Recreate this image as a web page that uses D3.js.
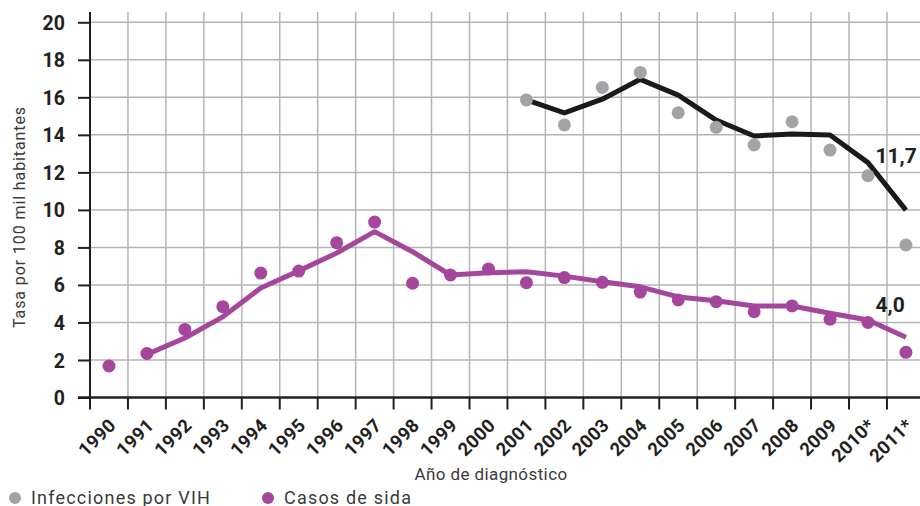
<!DOCTYPE html>
<html>
<head>
<meta charset="utf-8">
<script src="https://cdn.jsdelivr.net/npm/d3@7"></script>
<style>
  html, body { margin: 0; padding: 0; background: #fff; }
  svg { display: block; }
  text { font-family: Roboto, "DejaVu Sans", sans-serif; }
</style>
</head>
<body>
<svg id="chart" width="920" height="506"></svg>
<script>
// ---- data ----
const years = ["1990","1991","1992","1993","1994","1995","1996","1997","1998","1999","2000",
               "2001","2002","2003","2004","2005","2006","2007","2008","2009","2010*","2011*"];
const sidaPoints = [1.68, 2.35, 3.63, 4.84, 6.63, 6.74, 8.25, 9.35, 6.09, 6.53, 6.85,
                    6.12, 6.39, 6.14, 5.62, 5.2, 5.11, 4.57, 4.88, 4.17, 4.0, 2.41];
const sidaLine = [null, 2.3, 3.17, 4.3, 5.84, 6.75, 7.7, 8.84, 7.77, 6.53, 6.65,
                  6.7, 6.47, 6.17, 5.9, 5.36, 5.16, 4.88, 4.88, 4.49, 4.13, 3.21];
const vihPoints = [null, null, null, null, null, null, null, null, null, null, null,
                   15.86, 14.53, 16.53, 17.33, 15.18, 14.4, 13.46, 14.7, 13.19, 11.82, 8.13];
const vihLine = [null, null, null, null, null, null, null, null, null, null, null,
                 15.86, 15.17, 15.9, 16.96, 16.12, 14.79, 13.94, 14.05, 13.99, 12.52, 9.99];
const yTicks = [0, 2, 4, 6, 8, 10, 12, 14, 16, 18, 20];
const annotations = [{label: "11,7", value: 12.5, idx: 20}, {label: "4,0", value: 4.57, idx: 20}];
const legendItems = [{label: "Infecciones por VIH", color: "#a2a3a6"}, {label: "Casos de sida", color: "#a4479c"}];
const yTitle = "Tasa por 100 mil habitantes";
const xTitle = "Año de diagnóstico";

// ---- layout ----
const svg = d3.select("#chart");
const plotLeft = 90, plotBottom = 397.5, plotTop = 22.3;
const step = 37.95;
const x = d3.scaleBand().domain(years).range([plotLeft, plotLeft + step * years.length]).padding(0);
const y = d3.scaleLinear().domain([0, 20]).range([plotBottom, plotTop]);
const cx = d => x(d) + x.bandwidth() / 2;

const gridColor = "#b4b4b6";
const axisColor = "#231f20";
const textColor = "#231f20";

// grid
const grid = svg.append("g");
grid.selectAll("line.h").data(yTicks.filter(d => d > 0)).join("line")
  .attr("class", "h")
  .attr("x1", plotLeft).attr("x2", 920)
  .attr("y1", d => y(d)).attr("y2", d => y(d))
  .attr("stroke", gridColor).attr("stroke-width", 1.5);
grid.selectAll("line.v").data(years.slice(1)).join("line")
  .attr("class", "v")
  .attr("x1", d => x(d)).attr("x2", d => x(d))
  .attr("y1", 12).attr("y2", plotBottom)
  .attr("stroke", gridColor).attr("stroke-width", 1.5);

// y axis
const yAxis = svg.append("g").attr("transform", `translate(${plotLeft},0)`)
  .call(d3.axisLeft(y).tickValues(yTicks).tickSize(12).tickPadding(13));
yAxis.select(".domain").remove();
yAxis.selectAll(".tick line").attr("stroke", axisColor).attr("stroke-width", 2);
yAxis.selectAll(".tick text").attr("fill", textColor)
  .style("font-size", "19.5px").style("font-weight", "700").attr("dy", "0.36em");
svg.append("line").attr("x1", plotLeft).attr("x2", plotLeft).attr("y1", 12).attr("y2", plotBottom + 12)
  .attr("stroke", axisColor).attr("stroke-width", 2);

// x axis
svg.append("line").attr("x1", plotLeft - 12).attr("x2", 920).attr("y1", plotBottom).attr("y2", plotBottom)
  .attr("stroke", axisColor).attr("stroke-width", 2.5);
svg.append("g").selectAll("line").data(years.slice(1)).join("line")
  .attr("x1", d => x(d)).attr("x2", d => x(d))
  .attr("y1", plotBottom).attr("y2", plotBottom + 12)
  .attr("stroke", axisColor).attr("stroke-width", 2);
const xAxis = svg.append("g").attr("transform", `translate(0,${plotBottom})`)
  .call(d3.axisBottom(x).tickSize(0).tickPadding(0));
xAxis.select(".domain").remove();
xAxis.selectAll(".tick text")
  .attr("fill", textColor)
  .style("font-size", "18.5px").style("font-weight", "700")
  .style("letter-spacing", "0.3px")
  .attr("text-anchor", "end")
  .attr("dy", 0).attr("y", 0)
  .attr("transform", "translate(8,29) rotate(-45)");

// axis titles
svg.append("text").attr("transform", `translate(25,217) rotate(-90)`)
  .attr("text-anchor", "middle").attr("fill", "#3a3a3a")
  .style("font-size", "16px").style("letter-spacing", "0.9px").text(yTitle);
svg.append("text").attr("x", 491).attr("y", 479.5)
  .attr("text-anchor", "middle").attr("fill", "#3a3a3a")
  .style("font-size", "17px").style("letter-spacing", "0.4px").text(xTitle);

// lines
const line = d3.line().defined(d => d.v != null).x(d => cx(d.k)).y(d => y(d.v));
svg.append("path").datum(years.map((k, i) => ({k, v: vihLine[i]})))
  .attr("d", line).attr("fill", "none").attr("stroke", "#1a1a1a")
  .attr("stroke-width", 5).attr("stroke-linejoin", "round");
svg.append("path").datum(years.map((k, i) => ({k, v: sidaLine[i]})))
  .attr("d", line).attr("fill", "none").attr("stroke", "#a4479c")
  .attr("stroke-width", 5).attr("stroke-linejoin", "round");

// points
svg.append("g").selectAll("circle")
  .data(years.map((k, i) => ({k, v: vihPoints[i]})).filter(d => d.v != null)).join("circle")
  .attr("cx", d => cx(d.k)).attr("cy", d => y(d.v)).attr("r", 6.5).attr("fill", "#a2a3a6");
svg.append("g").selectAll("circle")
  .data(years.map((k, i) => ({k, v: sidaPoints[i]}))).join("circle")
  .attr("cx", d => cx(d.k)).attr("cy", d => y(d.v)).attr("r", 6.5).attr("fill", "#a4479c");

// annotations
svg.append("g").selectAll("text").data(annotations).join("text")
  .attr("x", d => cx(years[d.idx]) + 7.5).attr("y", d => y(d.value))
  .attr("fill", textColor).style("font-size", "21px").style("font-weight", "700")
  .text(d => d.label);

// legend
const lg = svg.append("g");
const legendX = [15, 268];
legendItems.forEach((it, i) => {
  lg.append("circle").attr("cx", legendX[i]).attr("cy", 498).attr("r", 6).attr("fill", it.color);
  lg.append("text").attr("x", legendX[i] + 16).attr("y", 503.5)
    .attr("fill", "#3a3a3a").style("font-size", "18px").style("letter-spacing", "1.2px")
    .text(it.label);
});
</script>
</body>
</html>
